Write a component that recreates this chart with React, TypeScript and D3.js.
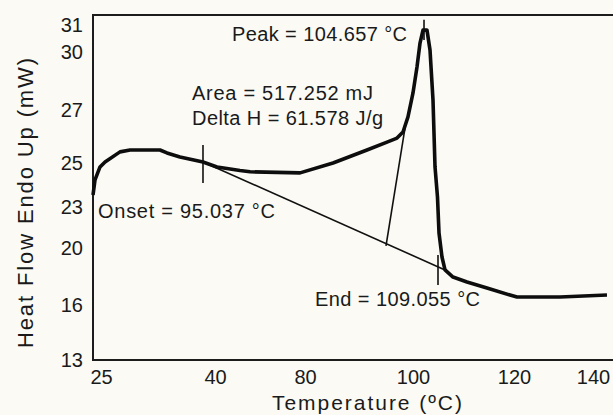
import React from 'react'
import * as d3 from 'd3'

// DSC heat flow trace (temperature °C, heat flow mW)
const temperature = [
  23.95, 24.21, 24.87, 25.53, 27.5, 28.82, 32.76, 33.68, 35.39, 38.42, 40.89, 51.1, 55.6,
  77.8, 85.19, 91.48, 95.19, 97.04, 98.15, 99.07, 100, 100.79, 101.39, 101.98, 102.77,
  103.37, 103.96, 104.36, 104.85, 105.15, 105.74, 106.34, 107.92, 110.69, 114.65, 119.21,
  120.76, 131.65, 143.54,
]
const heatFlow = [
  23.55, 24.23, 24.82, 25.04, 25.42, 25.49, 25.49, 25.38, 25.23, 25.04, 24.82, 24.66, 24.6,
  24.55, 25.0, 25.49, 25.79, 25.94, 26.17, 26.74, 27.88, 29.22, 30.33, 30.81, 30.81,
  30.07, 27.52, 24.82, 23.45, 21.1, 19.37, 18.46, 17.96, 17.61, 17.19, 16.7,
  16.56, 16.56, 16.7,
]

// analysis construction lines: [t1, hf1, t2, hf2]
const baselineSeg = [38.42, 25.04, 106.34, 18.46]
const onsetMark = [38.42, 25.68, 38.42, 24.09]
const areaMark = [95.0, 20.15, 98.7, 26.55]
const peakMark = [102.18, 31.19, 102.18, 30.44]
const endMark = [104.95, 19.51, 104.95, 17.4]

const xTicks = [25, 40, 80, 100, 120, 140]
const yTicks = [13, 16, 20, 23, 25, 27, 30, 31]

const W = 613
const H = 415
const left = 93
const top = 15
const bottom = 360

export default function App() {
  // the printed axis is not evenly spaced, so both scales are piecewise linear
  const x = d3.scaleLinear()
    .domain(xTicks)
    .range([101, 215, 305, 413, 514, 593])
  const y = d3.scaleLinear()
    .domain(yTicks)
    .range([360, 305, 248, 207, 163, 110, 52, 25])

  const pts = temperature.map((t, i) => [t, heatFlow[i]] as [number, number])
  const line = d3.line<[number, number]>()
    .x(d => x(d[0]))
    .y(d => y(d[1]))

  const segs = [baselineSeg, onsetMark, areaMark, peakMark, endMark]
  const font = 'Liberation Sans, Arial, sans-serif'

  const xAxis = d3.axisBottom(x).tickValues(xTicks).tickSize(0).tickPadding(10)
  const yAxis = d3.axisLeft(y).tickValues(yTicks).tickSize(0).tickPadding(10)

  const styleAxis = (node: SVGGElement | null, axis: any) => {
    if (!node) return
    const g = d3.select(node)
    g.call(axis)
    g.select('.domain').remove()
    g.attr('font-family', font).attr('font-size', 20)
    g.selectAll('text').attr('fill', '#1a1a1a')
  }

  return (
    <div style={{ position: 'fixed', left: 0, top: 0 }}>
      <svg width={W} height={H} style={{ display: 'block', background: '#fbfaf5' }}>
        {/* frame: left, top and bottom only */}
        <path
          d={`M${W},${top}H${left}V${bottom}H${W}`}
          fill="none"
          stroke="#1c1c1c"
          strokeWidth={2}
        />

        <g transform={`translate(0,${bottom})`} ref={node => styleAxis(node, xAxis)} />
        <g transform={`translate(${left},0)`} ref={node => styleAxis(node, yAxis)} />

        {/* construction lines */}
        {segs.map((s, i) => (
          <line
            key={i}
            x1={x(s[0])}
            y1={y(s[1])}
            x2={x(s[2])}
            y2={y(s[3])}
            stroke="#111"
            strokeWidth={1.6}
          />
        ))}

        {/* heat flow curve */}
        <path d={line(pts) ?? ''} fill="none" stroke="#0d0d0d" strokeWidth={3.6} strokeLinejoin="round" />

        {/* annotations */}
        <g fontFamily={font} fontSize={20} fill="#1a1a1a">
          <text x={232} y={41} textLength={175} lengthAdjust="spacing">Peak = 104.657 °C</text>
          <text x={192} y={100} textLength={181} lengthAdjust="spacing">Area = 517.252 mJ</text>
          <text x={192} y={125} textLength={191} lengthAdjust="spacing">Delta H = 61.578 J/g</text>
          <text x={98} y={218} textLength={177} lengthAdjust="spacing">Onset = 95.037 °C</text>
          <text x={315} y={306} textLength={165} lengthAdjust="spacing">End = 109.055 °C</text>
        </g>

        {/* axis titles */}
        <text
          x={272}
          y={410}
          fontFamily={font}
          fontSize={21}
          fill="#1a1a1a"
          textLength={190}
          lengthAdjust="spacing"
        >
          Temperature (ºC)
        </text>
        <text
          transform="translate(33,348) rotate(-90)"
          fontFamily={font}
          fontSize={22}
          fill="#1a1a1a"
          textLength={290}
          lengthAdjust="spacing"
        >
          Heat Flow Endo Up (mW)
        </text>
      </svg>
    </div>
  )
}
